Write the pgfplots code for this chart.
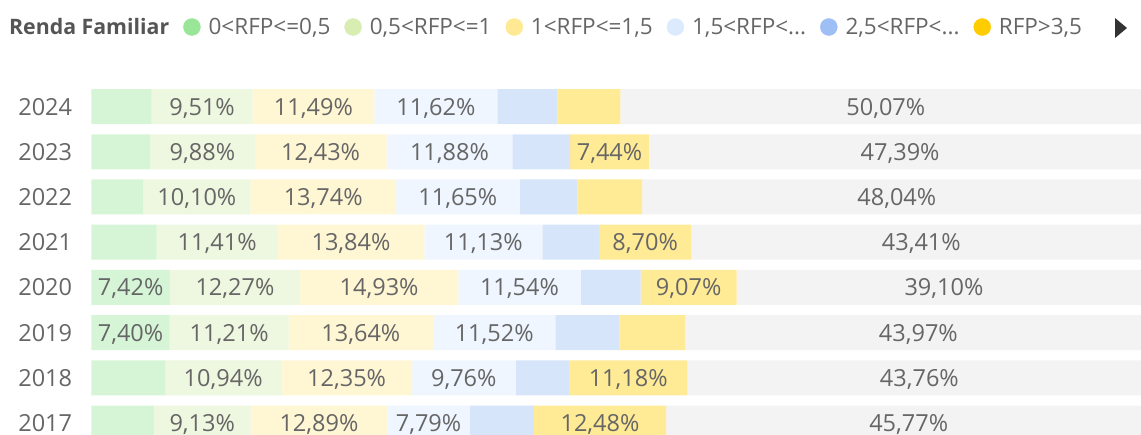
\documentclass[border=0pt]{standalone}
\usepackage{pgfplots}
\pgfplotsset{compat=1.18}
\usepackage{pgfplotstable}
\usepackage{fontspec}
\setmainfont{Open Sans}
\definecolor{b1}{HTML}{D5F5D6}
\definecolor{b2}{HTML}{EEF7DF}
\definecolor{b3}{HTML}{FFF6D4}
\definecolor{b4}{HTML}{EFF6FF}
\definecolor{b5}{HTML}{D7E5FB}
\definecolor{b6}{HTML}{FFEA96}
\definecolor{b7}{HTML}{F3F3F3}
\definecolor{l1}{HTML}{99E699}
\definecolor{l2}{HTML}{D7EDB2}
\definecolor{l3}{HTML}{FFE993}
\definecolor{l4}{HTML}{DBEBFD}
\definecolor{l5}{HTML}{9DBFF5}
\definecolor{l6}{HTML}{FFCC00}
\definecolor{txt}{HTML}{666666}
\definecolor{ttl}{HTML}{555555}
\pgfplotstableread{
idx year a b c d e f g
0 2024 5.70 9.51 11.49 11.62 5.66 5.94 50.07
1 2023 5.54 9.88 12.43 11.88 5.44 7.44 47.39
2 2022 4.91 10.10 13.74 11.65 5.47 6.10 48.04
3 2021 6.17 11.41 13.84 11.13 5.35 8.70 43.41
4 2020 7.42 12.27 14.93 11.54 5.66 9.07 39.10
5 2019 7.40 11.21 13.64 11.52 6.04 6.23 43.97
6 2018 6.97 10.94 12.35 9.76 5.04 11.18 43.76
7 2017 5.90 9.13 12.89 7.79 6.04 12.48 45.77
}\datatable
\begin{document}
\begin{tikzpicture}
\useasboundingbox (0pt,0pt) rectangle (1141pt,-434pt);
\begin{axis}[
  at={(91.3pt,-80pt)}, anchor=north west,
  scale only axis, width=1065.3pt, height=354pt,
  xbar stacked, bar width=35pt,
  xmin=0, xmax=100.5,
  ymin=-0.586, ymax=7.239, y dir=reverse,
  axis line style={draw=none},
  xtick=\empty,
  ytick={0,...,7},
  yticklabels={2024,2023,2022,2021,2020,2019,2018,2017},
  major tick length=0pt,
  yticklabel style={font=\fontsize{23.5}{28}\selectfont, text=txt, inner sep=0pt, text depth=0pt, xshift=-19pt},
  /pgf/number format/.cd, fixed, fixed zerofill, precision=2, use comma, assume math mode=true,
  /pgfplots/.cd,
  nodes near coords={\pgfmathparse{\rawx>6.99}\ifnum\pgfmathresult=1 \pgfmathprintnumber{\rawx}\%\fi},
  every node near coord/.append style={font=\fontsize{23.5}{28}\selectfont, text=txt, anchor=center, inner sep=0pt, text depth=0pt},
  legend columns=-1,
  legend cell align=left,
  legend style={draw=none, fill=none, at={(-0.0876,1.1497)}, anchor=west,
    font=\fontsize{22.5}{26}\selectfont, text=txt,
    nodes={inner sep=0pt},
    /tikz/every odd column/.append style={column sep=8pt},
    /tikz/every even column/.append style={column sep=14pt}},
]
\addlegendimage{empty legend}
\addlegendentry{\fontsize{21.3}{24}\selectfont\bfseries\color{ttl}Renda Familiar}
\addlegendimage{legend image code/.code={\fill[l1] (8.5pt,0pt) circle (8.5pt);}}
\addlegendentry{0<RFP<=0,5}
\addlegendimage{legend image code/.code={\fill[l2] (8.5pt,0pt) circle (8.5pt);}}
\addlegendentry{0,5<RFP<=1}
\addlegendimage{legend image code/.code={\fill[l3] (8.5pt,0pt) circle (8.5pt);}}
\addlegendentry{1<RFP<=1,5}
\addlegendimage{legend image code/.code={\fill[l4] (8.5pt,0pt) circle (8.5pt);}}
\addlegendentry{1,5<RFP<...}
\addlegendimage{legend image code/.code={\fill[l5] (8.5pt,0pt) circle (8.5pt);}}
\addlegendentry{2,5<RFP<...}
\addlegendimage{legend image code/.code={\fill[l6] (8.5pt,0pt) circle (8.5pt);}}
\addlegendentry{RFP>3,5}
\addplot[fill=b1, draw=none, visualization depends on={\thisrow{a} \as \rawx}] table[x=a, y=idx] {\datatable};
\addplot[fill=b2, draw=none, visualization depends on={\thisrow{b} \as \rawx}] table[x=b, y=idx] {\datatable};
\addplot[fill=b3, draw=none, visualization depends on={\thisrow{c} \as \rawx}] table[x=c, y=idx] {\datatable};
\addplot[fill=b4, draw=none, visualization depends on={\thisrow{d} \as \rawx}] table[x=d, y=idx] {\datatable};
\addplot[fill=b5, draw=none, visualization depends on={\thisrow{e} \as \rawx}] table[x=e, y=idx] {\datatable};
\addplot[fill=b6, draw=none, visualization depends on={\thisrow{f} \as \rawx}] table[x=f, y=idx] {\datatable};
\addplot[fill=b7, draw=none, visualization depends on={\thisrow{g} \as \rawx}] table[x=g, y=idx] {\datatable};
\end{axis}
\fill[black!80] (1115pt,-18pt) -- (1127pt,-28pt) -- (1115pt,-38pt) -- cycle;
\end{tikzpicture}
\end{document}
